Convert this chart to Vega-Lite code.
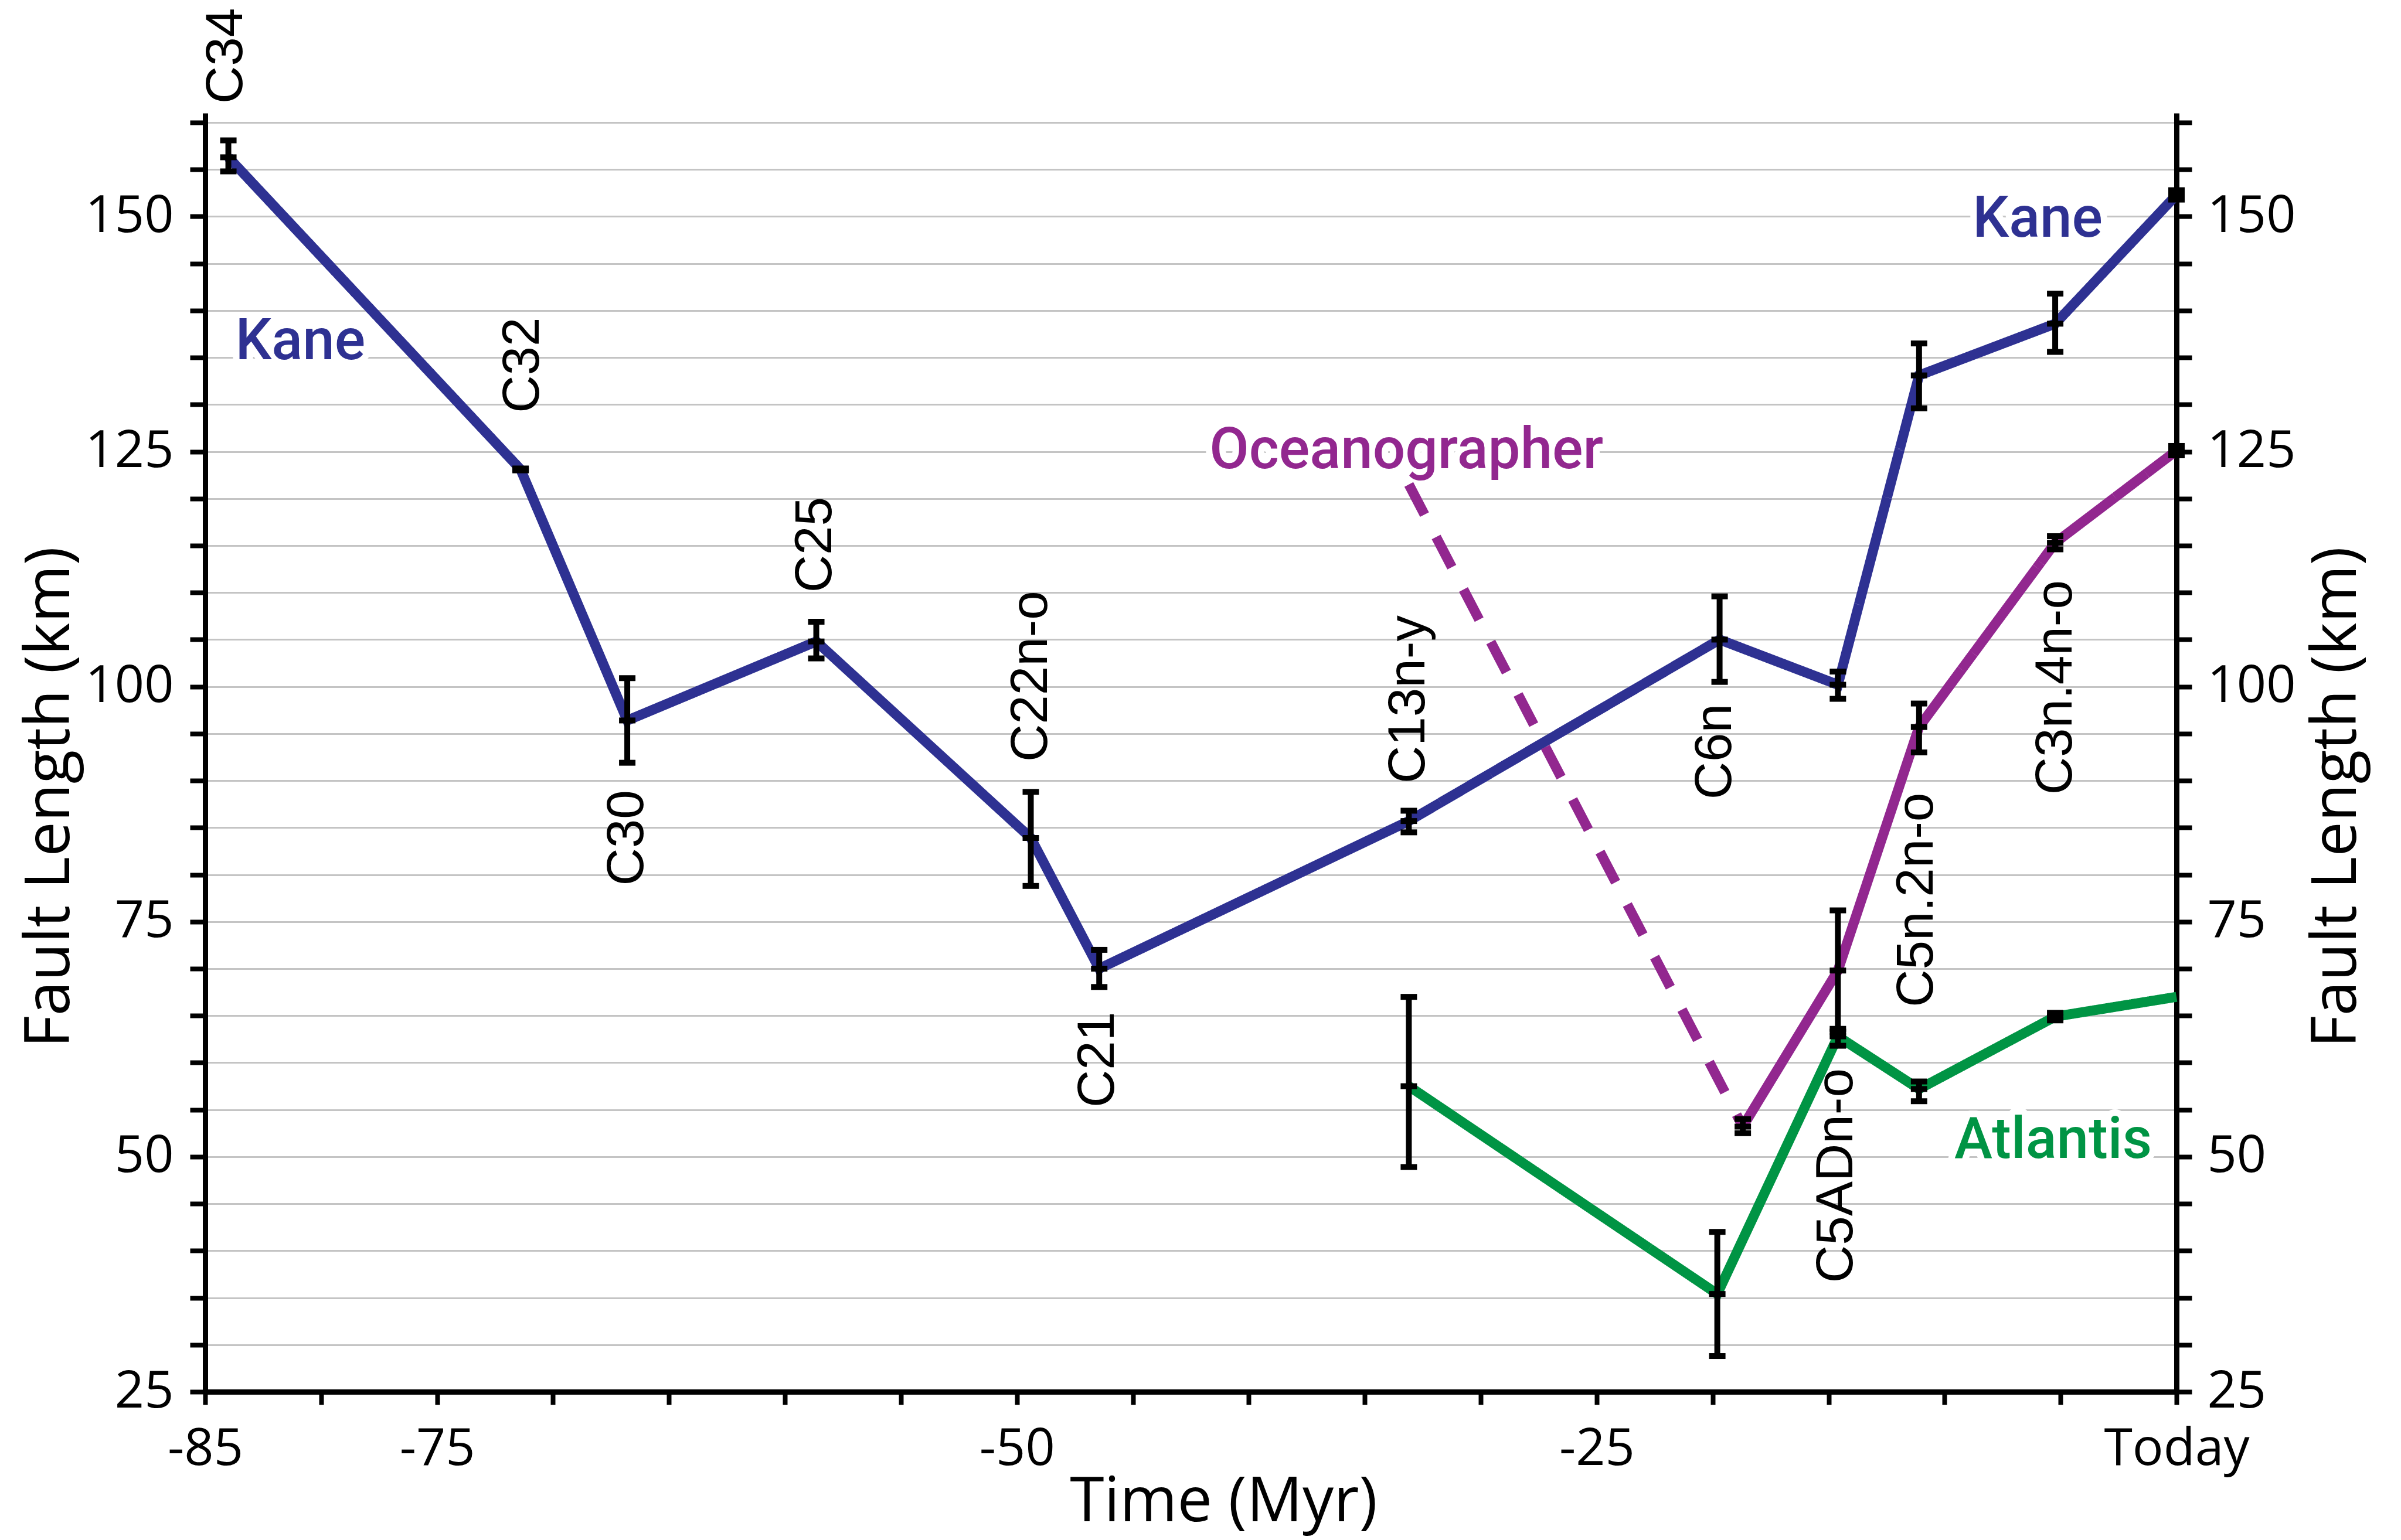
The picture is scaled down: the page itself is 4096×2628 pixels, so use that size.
{
  "$schema": "https://vega.github.io/schema/vega-lite/v6.json",
  "width": 3363,
  "height": 2182,
  "autosize": {"type": "none"},
  "padding": {"left": 350, "top": 193, "right": 383, "bottom": 253},
  "background": "white",
  "config": {
    "view": {"stroke": null},
    "axis": {
      "domainColor": "black", "domainWidth": 9,
      "tickColor": "black", "tickWidth": 8, "tickSize": 26,
      "labelFont": "Open Sans", "labelFontSize": 88, "labelColor": "black",
      "labelFlush": false, "labelOverlap": false, "labelBound": false, "labelLimit": 2000,
      "titleFont": "Open Sans", "titleFontSize": 106, "titleFontWeight": "normal", "titleColor": "black", "titleLimit": 3000,
      "gridColor": "#c4c4c4", "gridWidth": 3
    }
  },
  "datasets": {
    "pts": [
      {"series": "Kane", "part": "solid", "t": -84.0, "len": 156.3, "lo": 154.8, "hi": 158.1},
      {"series": "Kane", "part": "solid", "t": -71.4, "len": 123.1, "lo": 123.0, "hi": 123.2},
      {"series": "Kane", "part": "solid", "t": -66.8, "len": 96.4, "lo": 91.9, "hi": 100.9},
      {"series": "Kane", "part": "solid", "t": -58.65, "len": 104.8, "lo": 103.0, "hi": 106.9},
      {"series": "Kane", "part": "solid", "t": -49.4, "len": 83.9, "lo": 78.8, "hi": 88.8},
      {"series": "Kane", "part": "solid", "t": -46.45, "len": 70.0, "lo": 68.05, "hi": 72.0},
      {"series": "Kane", "part": "solid", "t": -33.1, "len": 85.7, "lo": 84.5, "hi": 86.8},
      {"series": "Kane", "part": "solid", "t": -19.7, "len": 105.0, "lo": 100.5, "hi": 109.6},
      {"series": "Kane", "part": "solid", "t": -14.6, "len": 100.2, "lo": 98.7, "hi": 101.6},
      {"series": "Kane", "part": "solid", "t": -11.1, "len": 133.1, "lo": 129.6, "hi": 136.5},
      {"series": "Kane", "part": "solid", "t": -5.23, "len": 138.6, "lo": 135.6, "hi": 141.8},
      {"series": "Kane", "part": "solid", "t": 0, "len": 152.3, "lo": 151.8, "hi": 152.8},
      {"series": "Oceanographer", "part": "dashed", "t": -33.1, "len": 121.5, "lo": null, "hi": null},
      {"series": "Oceanographer", "part": "dashed", "t": -18.7, "len": 53.2, "lo": null, "hi": null},
      {"series": "Oceanographer", "part": "solid", "t": -18.7, "len": 53.2, "lo": 52.5, "hi": 54.0},
      {"series": "Oceanographer", "part": "solid", "t": -14.6, "len": 69.8, "lo": 63.3, "hi": 76.2},
      {"series": "Oceanographer", "part": "solid", "t": -11.1, "len": 95.7, "lo": 93.0, "hi": 98.2},
      {"series": "Oceanographer", "part": "solid", "t": -5.23, "len": 115.3, "lo": 114.6, "hi": 116.0},
      {"series": "Oceanographer", "part": "solid", "t": 0, "len": 125.1, "lo": 124.6, "hi": 125.6},
      {"series": "Atlantis", "part": "solid", "t": -33.1, "len": 57.5, "lo": 48.9, "hi": 67.0},
      {"series": "Atlantis", "part": "solid", "t": -19.8, "len": 35.4, "lo": 28.8, "hi": 42.0},
      {"series": "Atlantis", "part": "solid", "t": -14.6, "len": 62.8, "lo": 61.8, "hi": 63.6},
      {"series": "Atlantis", "part": "solid", "t": -11.1, "len": 57.2, "lo": 55.9, "hi": 58.0},
      {"series": "Atlantis", "part": "solid", "t": -5.23, "len": 64.9, "lo": 64.5, "hi": 65.3},
      {"series": "Atlantis", "part": "solid", "t": 0, "len": 67.0, "lo": null, "hi": null}
    ],
    "chrons": [
      {"name": "C34", "t": -84.1, "len": 162.0, "side": "above"},
      {"name": "C32", "t": -71.3, "len": 129.1, "side": "above"},
      {"name": "C25", "t": -58.7, "len": 110.0, "side": "above"},
      {"name": "C22n-o", "t": -49.4, "len": 92.0, "side": "above"},
      {"name": "C13n-y", "t": -33.1, "len": 89.7, "side": "above"},
      {"name": "C6n", "t": -19.9, "len": 88.0, "side": "above"},
      {"name": "C5n.2n-o", "t": -11.2, "len": 65.9, "side": "above"},
      {"name": "C3n.4n-o", "t": -5.2, "len": 88.5, "side": "above"},
      {"name": "C30", "t": -66.8, "len": 89.0, "side": "below"},
      {"name": "C21", "t": -46.5, "len": 65.4, "side": "below"},
      {"name": "C5ADn-o", "t": -14.65, "len": 59.4, "side": "below"}
    ],
    "names": [
      {"name": "Kane", "series": "Kane", "t": -83.7, "len": 134.8},
      {"name": "Kane", "series": "Kane", "t": -8.79, "len": 147.85},
      {"name": "Oceanographer", "series": "Oceanographer", "t": -41.7, "len": 123.2},
      {"name": "Atlantis", "series": "Atlantis", "t": -9.58, "len": 49.9}
    ]
  },
  "resolve": {"axis": {"y": "independent"}},
  "encoding": {
    "x": {"field": "t", "type": "quantitative", "scale": {"domain": [-85, 0], "nice": false, "zero": false},
      "axis": {"orient": "bottom", "values": [-85, -80, -75, -70, -65, -60, -55, -50, -45, -40, -35, -30, -25, -20, -15, -10, -5, 0],
        "grid": false, "tickSize": 22, "labelPadding": 32,
        "labelExpr": "datum.value === 0 ? 'Today' : (datum.value === -85 || datum.value === -75 || datum.value === -50 || datum.value === -25) ? '-' + abs(datum.value) : ''",
        "title": "Time (Myr)", "titleX": 1737, "titleY": 220, "titleAlign": "center", "titleBaseline": "alphabetic"}}
  },
  "layer": [
    {
      "data": {"name": "names"},
      "mark": {"type": "text", "font": "Roboto", "fontWeight": 500, "fontSize": 98, "align": "left", "baseline": "alphabetic", "fill": "white", "stroke": "white", "strokeWidth": 22, "strokeJoin": "round"},
      "encoding": {
        "y": {"field": "len", "type": "quantitative", "scale": {"domain": [25, 161], "nice": false, "zero": false},
          "axis": {"orient": "left", "values": [25, 30, 35, 40, 45, 50, 55, 60, 65, 70, 75, 80, 85, 90, 95, 100, 105, 110, 115, 120, 125, 130, 135, 140, 145, 150, 155, 160],
            "grid": true, "labelPadding": 28,
            "labelExpr": "datum.value % 25 === 0 ? datum.label : ''",
            "title": "Fault Length (km)", "titleAngle": 270, "titleX": -233, "titleY": 1167, "titleAlign": "center", "titleBaseline": "alphabetic"}},
        "text": {"field": "name"}
      }
    },
    {
      "data": {"name": "pts"},
      "mark": {"type": "line", "strokeWidth": 17},
      "encoding": {
        "y": {"field": "len", "type": "quantitative", "scale": {"domain": [25, 161], "nice": false, "zero": false},
          "axis": {"orient": "right", "values": [25, 30, 35, 40, 45, 50, 55, 60, 65, 70, 75, 80, 85, 90, 95, 100, 105, 110, 115, 120, 125, 130, 135, 140, 145, 150, 155, 160],
            "grid": false, "labelPadding": 26,
            "labelExpr": "datum.value % 25 === 0 ? datum.label : ''",
            "title": "Fault Length (km)", "titleAngle": 270, "titleX": 305, "titleY": 1167, "titleAlign": "center", "titleBaseline": "alphabetic"}},
        "color": {"field": "series", "type": "nominal", "scale": {"domain": ["Kane", "Oceanographer", "Atlantis"], "range": ["#2e3192", "#92278f", "#009444"]}, "legend": null},
        "strokeDash": {"field": "part", "type": "nominal", "scale": {"domain": ["solid", "dashed"], "range": [[1, 0], [58, 43]]}, "legend": null}
      }
    },
    {
      "data": {"name": "pts"},
      "transform": [{"filter": "isValid(datum.lo)"}],
      "mark": {"type": "rule", "color": "black", "strokeWidth": 10},
      "encoding": {
        "y": {"field": "lo", "type": "quantitative", "axis": null},
        "y2": {"field": "hi"}
      }
    },
    {
      "data": {"name": "pts"},
      "transform": [{"filter": "isValid(datum.lo)"}, {"fold": ["lo", "hi", "len"], "as": ["which", "v"]}],
      "mark": {"type": "tick", "orient": "horizontal", "color": "black", "size": 28, "thickness": 10, "opacity": 1},
      "encoding": {
        "y": {"field": "v", "type": "quantitative", "axis": null}
      }
    },
    {
      "data": {"name": "chrons"},
      "transform": [{"filter": "datum.side === 'above'"}],
      "mark": {"type": "text", "font": "Liberation Sans", "fontSize": 89, "angle": 270, "align": "left", "baseline": "middle", "color": "black"},
      "encoding": {
        "y": {"field": "len", "type": "quantitative", "axis": null},
        "text": {"field": "name"}
      }
    },
    {
      "data": {"name": "chrons"},
      "transform": [{"filter": "datum.side === 'below'"}],
      "mark": {"type": "text", "font": "Liberation Sans", "fontSize": 89, "angle": 270, "align": "right", "baseline": "middle", "color": "black"},
      "encoding": {
        "y": {"field": "len", "type": "quantitative", "axis": null},
        "text": {"field": "name"}
      }
    },
    {
      "data": {"name": "names"},
      "mark": {"type": "text", "font": "Roboto", "fontWeight": 500, "fontSize": 98, "align": "left", "baseline": "alphabetic"},
      "encoding": {
        "y": {"field": "len", "type": "quantitative", "axis": null},
        "text": {"field": "name"},
        "color": {"field": "series", "type": "nominal", "scale": {"domain": ["Kane", "Oceanographer", "Atlantis"], "range": ["#2e3192", "#662d91", "#009444"]}, "legend": null}
      }
    }
  ]
}
